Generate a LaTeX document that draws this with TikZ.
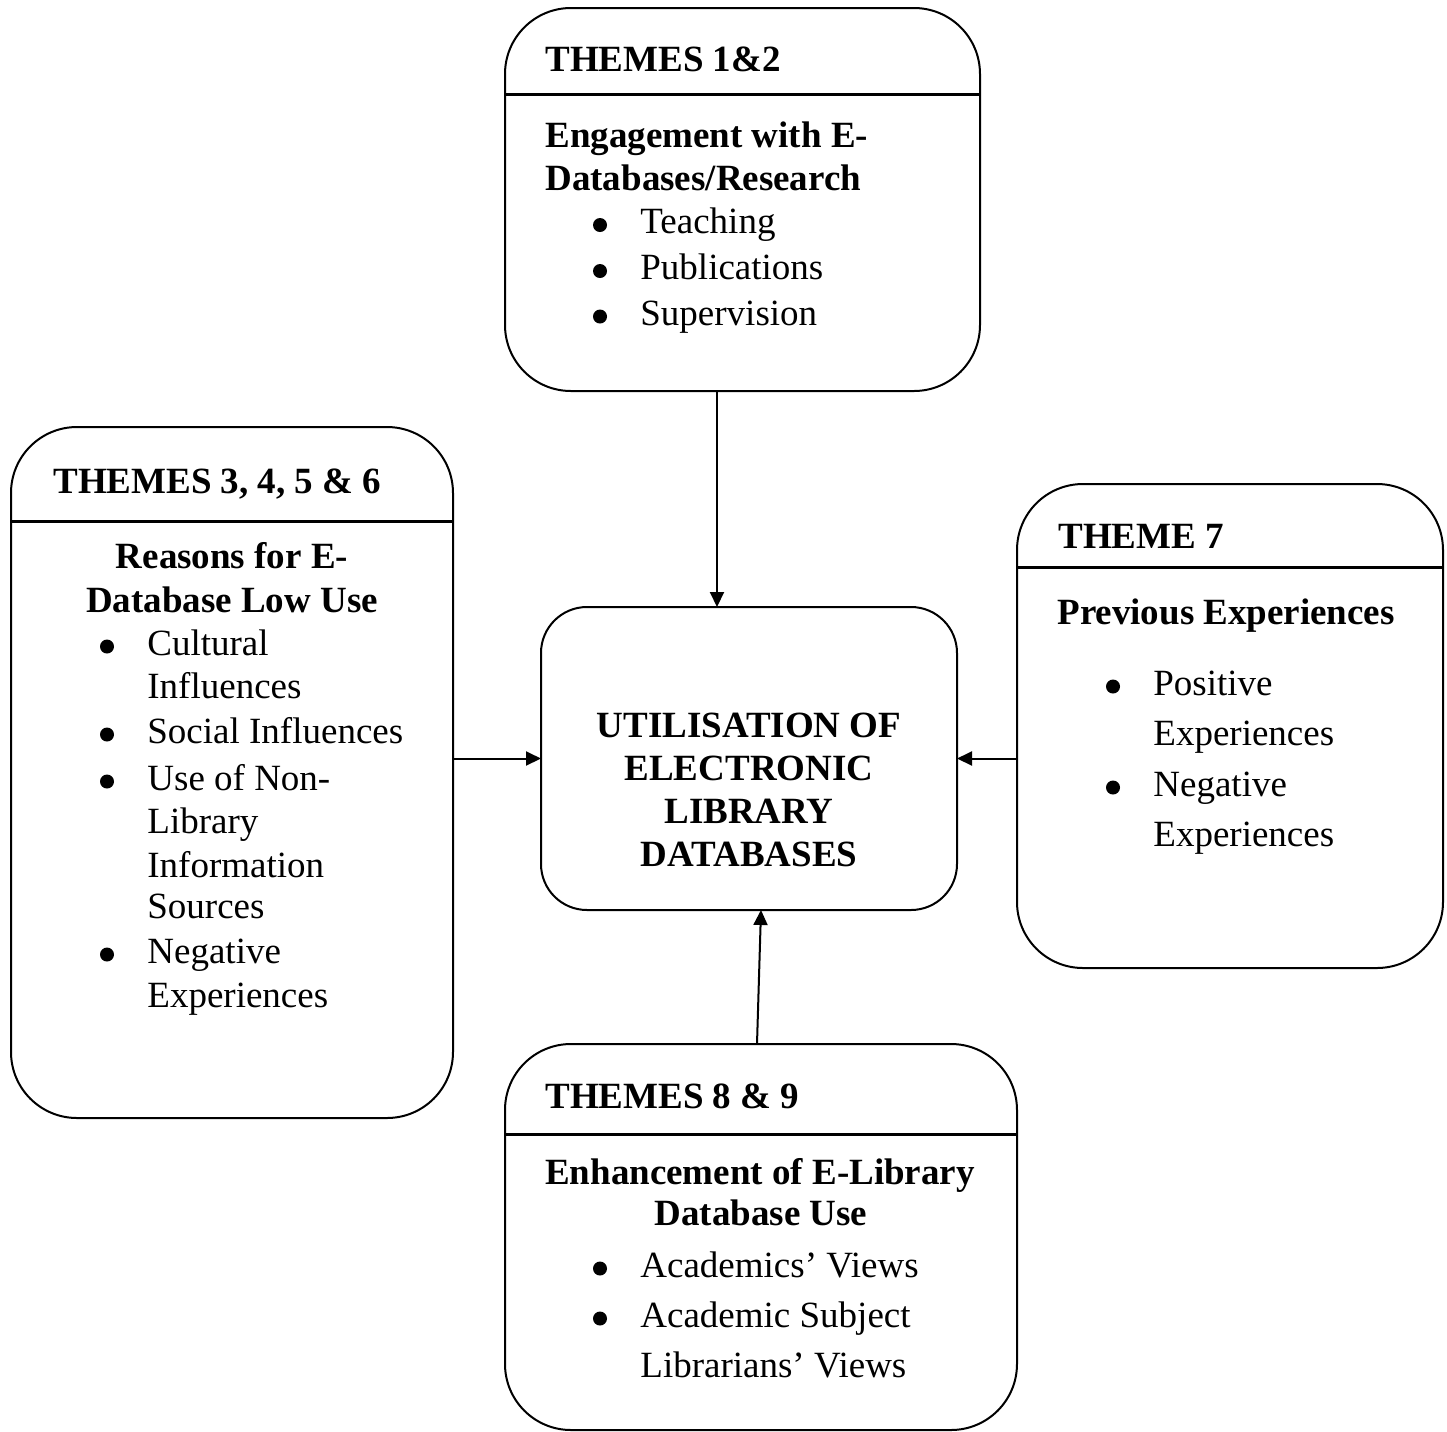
\documentclass[tikz,border=0pt]{standalone}
\usepackage{fontspec}
\setmainfont{Liberation Serif}
\usetikzlibrary{calc,arrows.meta}
\newcommand\mybul[2]{\fill (#1,#2) circle[radius=3.5pt];}
\begin{document}
\begin{tikzpicture}[x=0.5pt,y=-0.5pt,
  box/.style={draw,line width=1pt,inner sep=0pt,outer sep=0pt,rounded corners=33pt},
  cbox/.style={box,rounded corners=23pt},
  divider/.style={line width=1.5pt},
  conn/.style={line width=1pt,-{Triangle[length=7.5pt,width=7pt]}},
  hd/.style={font=\fontsize{18.5pt}{22pt}\selectfont\bfseries,inner sep=0pt,anchor=base west},
  hdc/.style={hd,anchor=base},
  itm/.style={font=\fontsize{18.5pt}{22pt}\selectfont,inner sep=0pt,anchor=base west}]
\useasboundingbox (0,0) rectangle (1447,1431);

% boxes
\node[box,minimum width=237.5pt,minimum height=191.5pt] (top) at (742.5,199.5) {};
\node[box,minimum width=221pt,minimum height=345.5pt] (left) at (232,772.5) {};
\node[box,minimum width=213pt,minimum height=242pt] (right) at (1230,726) {};
\node[box,minimum width=256pt,minimum height=193pt] (bot) at (761,1237) {};
\node[cbox,minimum width=208pt,minimum height=151.5pt] (cen) at (749,758.5) {};

% dividers
\draw[divider] ($(top.north west)+(0,86)$) -- ($(top.north east)+(0,86)$);
\draw[divider] ($(left.north west)+(0,94)$) -- ($(left.north east)+(0,94)$);
\draw[divider] ($(right.north west)+(0,83)$) -- ($(right.north east)+(0,83)$);
\draw[divider] ($(bot.north west)+(0,90)$) -- ($(bot.north east)+(0,90)$);

% top box text
\node[hd] (t1) at (545,71) {THEMES 1\&2};
\node[hd] (t1a) at (545,147) {Engagement with E-};
\node[hd] (t1b) at (545,190) {Databases/Research};
\mybul{600}{225}\node[itm] (t1c) at (640,233.5) {Teaching};
\mybul{600}{271}\node[itm] (t1d) at (640,279.5) {Publications};
\mybul{600}{316.5}\node[itm] (t1e) at (640,325) {Supervision};

% left box text
\node[hd] (t2) at (53,493) {THEMES 3, 4, 5 \& 6};
\node[hdc] (t2a) at (232,568) {Reasons for E-};
\node[hdc] (t2b) at (232,612) {Database Low Use};
\mybul{107}{646.5}\node[itm] (t2c) at (147,655) {Cultural};
\node[itm] (t2d) at (147,698) {Influences};
\mybul{107}{734.5}\node[itm] (t2e) at (147,743) {Social Influences};
\mybul{107}{781.5}\node[itm] (t2f) at (147,790) {Use of Non-};
\node[itm] (t2g) at (147,833) {Library};
\node[itm] (t2h) at (147,877) {Information};
\node[itm] (t2i) at (147,918) {Sources};
\mybul{107}{954.5}\node[itm] (t2j) at (147,963) {Negative};
\node[itm] (t2k) at (147,1007) {Experiences};

% right box text
\node[hd] (t3) at (1058,548) {THEME 7};
\node[hd] (t3a) at (1057,624) {Previous Experiences};
\mybul{1113}{686.5}\node[itm] (t3b) at (1153,695) {Positive};
\node[itm] (t3c) at (1153,745) {Experiences};
\mybul{1113}{787.5}\node[itm] (t3d) at (1153,796) {Negative};
\node[itm] (t3e) at (1153,846) {Experiences};

% bottom box text
\node[hd] (t4) at (545,1108) {THEMES 8 \& 9};
\node[hdc] (t4a) at (760,1184) {Enhancement of E-Library};
\node[hdc] (t4b) at (761,1225) {Database Use};
\mybul{600}{1268.5}\node[itm] (t4c) at (640,1277) {Academics’ Views};
\mybul{600}{1318.5}\node[itm] (t4d) at (640,1327) {Academic Subject};
\node[itm] (t4e) at (640,1377) {Librarians’ Views};

% centre text
\node[hdc] (c1) at (749,737) {UTILISATION OF};
\node[hdc] (c2) at (749,780) {ELECTRONIC};
\node[hdc] (c3) at (749,823) {LIBRARY};
\node[hdc] (c4) at (749,866) {DATABASES};

% connectors
\draw[conn] ($(top.south west)+(212,0)$) -- ($(cen.north west)+(176,0)$);
\draw[conn] (left.east |- cen.west) -- (cen.west);
\draw[conn] (right.west |- cen.east) -- (cen.east);
\draw[conn] ($(bot.north)+(-4,0)$) -- ($(cen.south)+(12,0)$);
\end{tikzpicture}
\end{document}
